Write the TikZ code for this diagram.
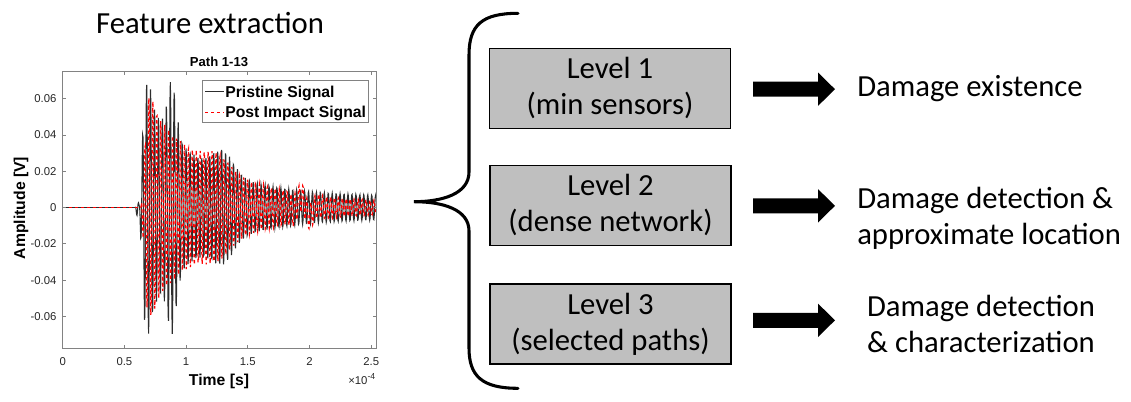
\documentclass[tikz,border=0pt]{standalone}
\usepackage{fontspec}
\setmainfont{Carlito}
\newfontfamily\plotfont{Liberation Sans}
\definecolor{boxgray}{RGB}{191,191,191}
\definecolor{sigkc}{RGB}{45,45,45}
\definecolor{axgray}{RGB}{130,130,130}
\definecolor{txtgray}{RGB}{38,38,38}
\begin{document}
\begin{tikzpicture}[x=0.75pt,y=-0.75pt,
  declare function={
    gs(\u)=exp(-min(3,abs(\u))*min(3,abs(\u)));
    ramp(\t,\a,\w)=min(1,max(0,(\t-\a)/\w));
    envk(\t)=ramp(\t,0.62,0.04)*(0.6+4.6*exp(-max(0,\t-0.75)/0.45)+1.8*gs((\t-0.69)/0.04)+3*gs((\t-0.885)/0.05)+1.2*gs((\t-1.3)/0.12))+0.5*gs((\t-0.605)/0.012);
    envr(\t)=ramp(\t,0.635,0.05)*(0.2+5*exp(-max(0,\t-0.75)/0.55)+0.9*gs((\t-0.71)/0.04)+0.8*gs((\t-1.25)/0.15));
    fk(\t)=envk(\t)*sin(360*frac(\t/0.032));
    fr(\t)=envr(\t)*sin(360*frac(\t/0.032+0.42))+0.6*gs((\t-1.96)/0.09)*sin(360*frac(\t/0.16+0.2));
  },
  titletext/.style={font=\fontsize{23}{27}\selectfont, inner sep=0pt},
  restext/.style={font=\fontsize{23}{27}\selectfont, inner sep=0pt},
  lvlbox/.style={draw=black, line width=1.1pt, fill=boxgray, minimum width=181pt,
    minimum height=60pt, align=center, inner sep=0pt, font=\fontsize{23}{27}\selectfont},
  axline/.style={draw=axgray, line width=0.6pt},
  ticklab/.style={font=\plotfont\fontsize{8.5}{10}\selectfont, text=txtgray, inner sep=0pt},
  boldlab/.style={font=\plotfont\bfseries\fontsize{11.8}{13}\selectfont, text=black, inner sep=0pt},
  leglab/.style={font=\plotfont\bfseries\fontsize{11.8}{13}\selectfont, text=black, inner sep=0pt, anchor=base west},
  sigline/.style={draw=sigkc, line width=0.8pt},
  redline/.style={draw=red, line width=0.9pt, dash pattern=on 2.5pt off 2pt},
  brace/.style={draw=black, line width=2.3pt, line cap=round},
  blockarrow/.pic={\fill[black] (0,-7.5) -- (65,-7.5) -- (65,-16.7) -- (82,0) -- (65,16.7) -- (65,7.5) -- (0,7.5) -- cycle;}
]
\useasboundingbox (0,0) rectangle (1131,401);

% title
\node[titletext, anchor=base] (title) at (210,33.3) {Feature extraction};

% plot
\begin{scope}[shift={(62.7,207.5)}, x=92.55pt, y=13.6125pt]
  \begin{scope}
    \clip (0,-7.75) rectangle (2.54,7.48);
    \draw[sigline] (0,0) -- (0.59,0);
    \draw[sigline] plot[domain=0.59:2.54, samples=640] (\x,{fk(\x)});
    \draw[redline] (0,0) -- (0.63,0);
    \draw[redline] plot[domain=0.63:2.54, samples=640] (\x,{fr(\x)});
  \end{scope}
  \draw[axline] (0,-7.75) rectangle (2.54,7.48);
  \foreach \v/\l in {6/0.06,4/0.04,2/0.02,0/0,-2/-0.02,-4/-0.04,-6/-0.06}{
    \draw[axline] (0,\v) -- ++(2.3pt,0);
    \draw[axline] (2.54,\v) -- ++(-2.3pt,0);
    \node[ticklab, anchor=east] (yt\v) at ([xshift=-4.5pt]0,\v) {\l};
  }
  \foreach \t/\l in {0/0,0.5/0.5,1/1,1.5/1.5,2/2,2.5/2.5}{
    \draw[axline] (\t,-7.75) -- ++(0,2.3pt);
    \draw[axline] (\t,7.48) -- ++(0,-2.3pt);
    \node[ticklab, anchor=north] (xt\l) at ([yshift=-7pt]\t,-7.75) {\l};
  }
\end{scope}
\node[ticklab, anchor=base east] (expo) at (375.5,384) {×10\raisebox{0.75ex}{\fontsize{6.5}{7}\selectfont -4}};
\node[font=\plotfont\bfseries\fontsize{9.8}{11}\selectfont, inner sep=0pt] (ptitle) at (219,62) {Path 1-13};
\node[boldlab] (xlab) at (219,381) {Time [s]};
\node[boldlab, rotate=90] (ylab) at (21,208) {Amplitude [V]};

% legend
\draw[axline, fill=white] (202.3,80.7) rectangle (368.3,122.7);
\coordinate (lk1) at (205,91.7); \coordinate (lk2) at (223.5,91.7);
\coordinate (lr1) at (205,112.7); \coordinate (lr2) at (223.5,112.7);
\draw[sigline] (lk1) -- (lk2);
\draw[redline] (lr1) -- (lr2);
\node[leglab] (leg1) at (225,97.3) {Pristine Signal};
\node[leglab] (leg2) at (225,117.3) {Post Impact Signal};

% brace
\draw[brace] (518,13.3) .. controls (482,13.3) and (469,25) .. (469,55)
  -- (469,172) .. controls (469,194) and (442,201.7) .. (414,201.7)
  .. controls (442,201.7) and (469,209) .. (469,231)
  -- (469,348) .. controls (469,376) and (482,388.3) .. (518,388.3);

% level boxes
\node[lvlbox] (L1) at (610,88.3) {Level 1\\(min sensors)};
\node[lvlbox] (L2) at (610.5,205.3) {Level 2\\(dense network)};
\node[lvlbox] (L3) at (610.5,324.2) {Level 3\\(selected paths)};

% arrows
\pic at (753,89.2) {blockarrow};
\pic at (753,205.8) {blockarrow};
\pic at (753,320.3) {blockarrow};

% results
\node[restext, anchor=west] (R1) at (857,89) {Damage existence};
\node[restext, anchor=west, align=left] (R2) at (857,218.5) {Damage detection \&\\approximate location};
\node[restext, align=center] (R3) at (981,323.5) {Damage detection\\\& characterization};
\end{tikzpicture}
\end{document}
